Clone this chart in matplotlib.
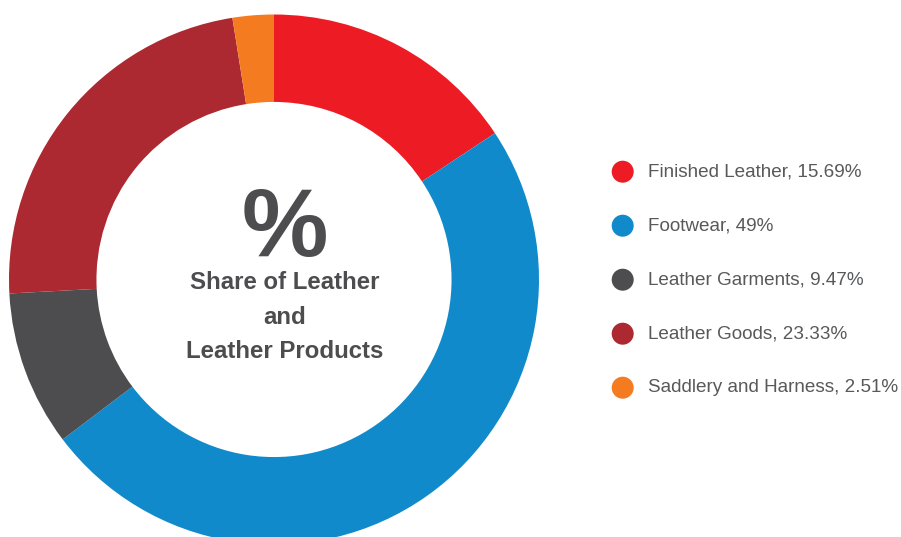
import matplotlib
matplotlib.use("Agg")
import matplotlib.pyplot as plt

# data
categories = ["Finished Leather", "Footwear", "Leather Garments", "Leather Goods", "Saddlery and Harness"]
shares = [15.69, 49, 9.47, 23.33, 2.51]
colors = ["#ED1C24", "#118ACB", "#4D4D4F", "#AD2931", "#F47B20"]

plt.rcParams["font.family"] = ["Liberation Sans", "DejaVu Sans"]
text_col = "#4D4D4F"

W, H = 901, 537
fig = plt.figure(figsize=(W / 100, H / 100), dpi=100)

# donut: centre (274, 279.5) px from top-left, radius 265 px
cx, cy, r = 274, 279.5, 265
ax = fig.add_axes([(cx - r) / W, (H - cy - r) / H, 2 * r / W, 2 * r / H])
ax.pie(shares, colors=colors, startangle=90, counterclock=False, radius=1,
       wedgeprops=dict(width=0.33, linewidth=0))
ax.set_xlim(-1, 1)
ax.set_ylim(-1, 1)
ax.set_aspect("equal")
ax.axis("off")

# overlay in pixel coordinates for text and legend
ov = fig.add_axes([0, 0, 1, 1])
ov.set_xlim(0, W)
ov.set_ylim(H, 0)
ov.axis("off")

ov.text(285, 231, "%", fontsize=70, fontweight="bold", color=text_col,
        ha="center", va="center")
ov.text(285, 317, "Share of Leather\nand\nLeather Products", fontsize=17.3,
        fontweight="bold", color=text_col, ha="center", va="center",
        linespacing=1.62)

# legend
ys = [171.7 + i * 54 for i in range(len(categories))]
ov.scatter([622.7] * len(categories), ys, s=(22 * 0.72) ** 2, c=colors,
           linewidths=0)
for y, name, val in zip(ys, categories, shares):
    ov.text(647.5, y, f"{name}, {val:g}%", fontsize=13.6, color="#58595B",
            ha="left", va="center")

fig.savefig("out.png", dpi=100)
